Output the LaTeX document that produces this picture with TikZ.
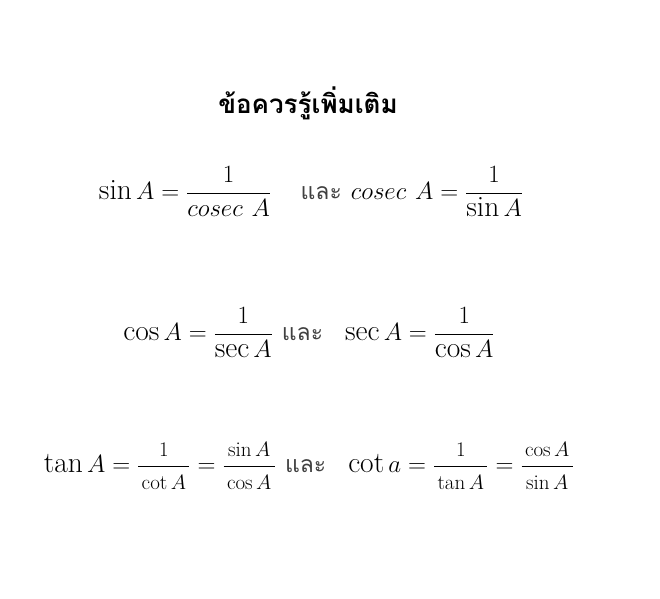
\documentclass[tikz,border=0pt]{standalone}
\usepackage{amsmath}
\usepackage{fontspec}
\usepackage{tikz}
\newfontfamily\thaifont[Script=Thai]{Loma}
\tikzset{eqline/.style={font=\fontsize{29.5}{34}\selectfont,inner sep=0pt}}
\newcommand{\lae}{\text{\thaifont\fontsize{23}{27}\selectfont\color{black!75} และ}}
\newcommand{\smallfrac}[2]{\dfrac{\text{\fontsize{21}{24}\selectfont$\,#1\,$}}{\text{\fontsize{21}{24}\selectfont$\,#2\,$}}}

\begin{document}
\begin{tikzpicture}[x=1pt,y=1pt,yscale=-1]
        \path (0,0) rectangle (660,598);

        %Text: title
        \node[eqline,font=\thaifont\bfseries\fontsize{26}{30}\selectfont] (title) at (308,103) {ข้อควรรู้เพิ่มเติม};
        %Text: sin and cosec
        \node[eqline] (sincosec) at (311,192) {$\displaystyle \sin A=\frac{1}{cosec\ A}\quad\lae\ cosec\ A=\frac{1}{\sin A}$};
        %Text: cos and sec
        \node[eqline] (cossec) at (309,333) {$\displaystyle \cos A=\frac{1}{\sec A}\ \lae\ \ \sec A=\frac{1}{\cos A}$};
        %Text: tan and cot
        \node[eqline] (tancot) at (309,466) {$\tan A=\smallfrac{1}{\cot A}=\smallfrac{\sin A}{\cos A}\ \lae\ \ \cot a=\smallfrac{1}{\tan A}=\smallfrac{\cos A}{\sin A}$};
\end{tikzpicture}
\end{document}
